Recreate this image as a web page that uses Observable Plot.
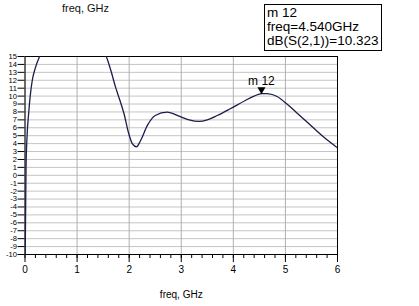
<!DOCTYPE html>
<html><head><meta charset="utf-8">
<script src="https://cdn.jsdelivr.net/npm/d3@7"></script>
<script src="https://cdn.jsdelivr.net/npm/@observablehq/plot@0.6"></script>
<style>
body{margin:0;background:#fff;font-family:"Liberation Sans",Arial,sans-serif;}
#wrap{position:relative;width:419px;height:306px;overflow:hidden;}
#title{position:absolute;left:62px;top:3px;font-size:11px;line-height:11px;color:#111;}
#box{position:absolute;left:264px;top:4px;width:114px;height:44px;border:1px solid #000;font-size:13.5px;line-height:14px;padding:1px 0 0 2px;box-sizing:content-box;color:#000;white-space:nowrap;}
#chart{position:absolute;left:0;top:0;}
</style>
</head><body>
<div id="wrap">
<div id="chart"></div>
<div id="title">freq, GHz</div>
<div id="box"></div>
</div>
<script>
const freq = [0, 0.01, 0.02, 0.04, 0.07, 0.1, 0.14, 0.2, 0.28, 0.4, 0.6, 0.9, 1.2, 1.45, 1.56, 1.65, 1.74, 1.82, 1.9, 1.99, 2.06, 2.14, 2.22, 2.35, 2.5, 2.73, 2.98, 3.15, 3.34, 3.5, 3.69, 3.94, 4.23, 4.4, 4.54, 4.65, 4.84, 5.03, 5.2, 5.42, 5.74, 6.0];
const dB = [-12, -6, 1, 5, 7.8, 10, 12, 13.6, 15, 16.5, 18, 18.5, 18, 16, 15, 13.2, 11.1, 9.5, 7.8, 5.3, 4.0, 3.6, 4.4, 6.3, 7.55, 7.97, 7.4, 7.0, 6.8, 7.0, 7.55, 8.4, 9.45, 10.0, 10.323, 10.3, 9.95, 9.0, 8.0, 6.7, 4.8, 3.47];
const xTicks = [0, 1, 2, 3, 4, 5, 6];
const markerName = ["m 12"];
const markerFreq = [4.54];
const markerDB = [10.323];
const markerLines = ["m 12", "freq=4.540GHz", "dB(S(2,1))=10.323"];

const data = freq.map((f, i) => ({f, db: dB[i]}));
const marker = markerName.map((n, i) => ({name: n, f: markerFreq[i], db: markerDB[i]}));

document.getElementById("box").innerHTML = markerLines.map(s => `<div>${s}</div>`).join("");

const chart = Plot.plot({
  width: 419, height: 306,
  marginLeft: 24.5, marginRight: 82, marginTop: 56, marginBottom: 52,
  style: {fontFamily: "'Liberation Sans', Arial, sans-serif", fontSize: "10px", background: "transparent", color: "#000"},
  x: {domain: [0, 6]},
  y: {domain: [-10, 15]},
  marks: [
    Plot.gridY({interval: 1, stroke: "#c4c4c4", strokeOpacity: 1}),
    Plot.gridX({ticks: xTicks, stroke: "#b0b0b0", strokeOpacity: 1}),
    Plot.axisX({interval: 0.2, tickSize: 4, tickFormat: () => "", label: null, stroke: "#000"}),
    Plot.axisX({ticks: xTicks, tickSize: 8, tickPadding: 3, tickFormat: d => String(d), label: "freq, GHz", labelAnchor: "center", labelArrow: "none", labelOffset: 43, fontSize: 10}),
    Plot.axisY({interval: 1, tickSize: 7, tickPadding: 1, tickFormat: d => String(d), label: null, fontSize: 7.6}),
    Plot.frame({stroke: "#000"}),
    Plot.line(data, {x: "f", y: "db", stroke: "#1c1c4c", strokeWidth: 1.3, curve: "monotone-x", clip: true}),
    Plot.dot(marker, {x: "f", y: "db", symbol: "triangle", rotate: 180, fill: "#000", stroke: "none", r: 3, dy: -4}),
    Plot.text(marker, {x: "f", y: "db", text: "name", dy: -12, fontSize: 12})
  ]
});
document.getElementById("chart").appendChild(chart);
</script>
</body></html>
